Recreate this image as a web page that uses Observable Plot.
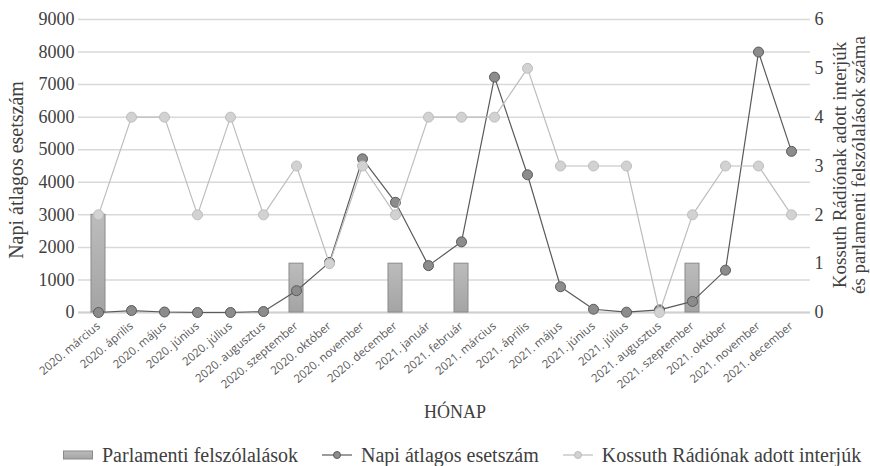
<!DOCTYPE html>
<html>
<head>
<meta charset="utf-8">
<script src="https://cdn.jsdelivr.net/npm/d3@7"></script>
<script src="https://cdn.jsdelivr.net/npm/@observablehq/plot@0.6"></script>
<style>
  body { margin: 0; background: #fff; }
  .serif, .serif text { font-family: "Liberation Serif", "DejaVu Serif", serif !important; }
  #legend { display: flex; align-items: center; height: 46px; padding-left: 63px; font-size: 20px; color: #404040; white-space: nowrap; }
  .item { display: flex; align-items: center; margin-right: 24px; }
  .item svg { margin-right: 9px; }
  .xlab text { font-family: "Open Sans", "Liberation Sans", sans-serif !important; }
</style>
</head>
<body>
<div id="chart"></div>
<div id="legend" class="serif"></div>
<script>
const months = ["2020. március","2020. április","2020. május","2020. június","2020. július","2020. augusztus","2020. szeptember","2020. október","2020. november","2020. december","2021. január","2021. február","2021. március","2021. április","2021. május","2021. június","2021. július","2021. augusztus","2021. szeptember","2021. október","2021. november","2021. december"];
const speeches = [2,0,0,0,0,0,1,0,0,1,0,1,0,0,0,0,0,0,1,0,0,0];
const cases = [0,60,15,0,0,30,670,1540,4720,3385,1440,2170,7230,4230,790,100,10,80,340,1300,8000,4950];
const interviews = [2,4,4,2,4,2,3,1,3,2,4,4,4,5,3,3,3,0,2,3,3,2];
const leftTicks = [0,1000,2000,3000,4000,5000,6000,7000,8000,9000];
const rightTicks = [0,1,2,3,4,5,6];
const ratio = 1500; // right-axis unit in left-axis units (9000 / 6)

const rows = months.map((m, i) => ({month: m, speeches: speeches[i], cases: cases[i], interviews: interviews[i]}));
const barRows = rows.filter(d => d.speeches > 0);

const chart = Plot.plot({
  width: 870, height: 432,
  marginTop: 19, marginBottom: 120, marginLeft: 78, marginRight: 60,
  className: "serif",
  style: {fontSize: "18px", color: "#404040", background: "#fff"},
  x: {type: "band", domain: months, paddingInner: 0.58, paddingOuter: 0.29},
  y: {domain: [0, 9000]},
  marks: [
    Plot.gridY(leftTicks, {stroke: "#d9d9d9", strokeOpacity: 1, strokeWidth: 1.5}),
    Plot.ruleY([0], {stroke: "#d0d0d0", strokeWidth: 2}),
    Plot.barY(barRows, {x: "month", y: d => d.speeches * ratio, fill: "url(#barGrad)", stroke: "#8a8a8a", strokeWidth: 1}),
    Plot.line(rows, {x: "month", y: "cases", stroke: "#5a5a5a", strokeWidth: 1.2}),
    Plot.dot(rows, {x: "month", y: "cases", r: 5, fill: "#8c8c8c", stroke: "#5a5a5a", strokeWidth: 1}),
    Plot.line(rows, {x: "month", y: d => d.interviews * ratio, stroke: "#bdbdbd", strokeWidth: 1.2}),
    Plot.dot(rows, {x: "month", y: d => d.interviews * ratio, r: 5, fill: "#d2d2d2", stroke: "#bdbdbd", strokeWidth: 1}),
    Plot.axisY(leftTicks, {anchor: "left", tickSize: 0, tickPadding: 4, label: null, tickFormat: d => String(d), fill: "#404040"}),
    Plot.axisY(rightTicks.map(v => v * ratio), {anchor: "right", tickSize: 0, tickPadding: 4, label: null, tickFormat: d => String(d / ratio), fill: "#404040"}),
    Plot.axisX({tickSize: 0, tickPadding: 12, tickRotate: -40, label: null, fontSize: 11.5, fill: "#595959", className: "xlab"})
  ]
});

const svg = d3.select(chart);
const defs = svg.insert("defs", ":first-child");
const g = defs.append("linearGradient").attr("id", "barGrad").attr("x1", 0).attr("y1", 0).attr("x2", 0).attr("y2", 1);
g.append("stop").attr("offset", "0%").attr("stop-color", "#bcbcbc");
g.append("stop").attr("offset", "100%").attr("stop-color", "#a4a4a4");

svg.append("text").attr("transform", "translate(23,170) rotate(-90)").attr("text-anchor", "middle")
  .attr("fill", "#404040").style("font-size", "20px").text("Napi átlagos esetszám");
const rt = svg.append("text").attr("transform", "translate(846,165) rotate(-90)").attr("text-anchor", "middle")
  .attr("fill", "#404040").style("font-size", "19px");
rt.append("tspan").attr("x", 0).attr("dy", 0).text("Kossuth Rádiónak adott interjúk");
rt.append("tspan").attr("x", 0).attr("dy", "1.0em").text("és parlamenti felszólalások száma");
svg.append("text").attr("x", 455).attr("y", 418).attr("text-anchor", "middle")
  .attr("fill", "#404040").style("font-size", "18px").text("HÓNAP");

document.getElementById("chart").append(chart);

const legend = d3.select("#legend");
const items = [
  {label: "Parlamenti felszólalások", type: "bar"},
  {label: "Napi átlagos esetszám", type: "line", stroke: "#5a5a5a", fill: "#8c8c8c"},
  {label: "Kossuth Rádiónak adott interjúk", type: "line", stroke: "#bdbdbd", fill: "#d2d2d2"}
];
items.forEach(it => {
  const d = legend.append("div").attr("class", "item");
  const s = d.append("svg").attr("width", 30).attr("height", 12);
  if (it.type === "bar") {
    s.append("rect").attr("x", 0.5).attr("y", 2).attr("width", 29).attr("height", 8).attr("fill", "url(#legendGrad)").attr("stroke", "#8a8a8a");
    const lg = s.append("defs").append("linearGradient").attr("id", "legendGrad").attr("x1", 0).attr("y1", 0).attr("x2", 0).attr("y2", 1);
    lg.append("stop").attr("offset", "0%").attr("stop-color", "#bcbcbc");
    lg.append("stop").attr("offset", "100%").attr("stop-color", "#a4a4a4");
  } else {
    s.append("line").attr("x1", 0).attr("x2", 30).attr("y1", 6).attr("y2", 6).attr("stroke", it.stroke).attr("stroke-width", 1.2);
    s.append("circle").attr("cx", 15).attr("cy", 6).attr("r", 3.5).attr("fill", it.fill).attr("stroke", it.stroke);
  }
  d.append("span").text(it.label);
});
</script>
</body>
</html>
